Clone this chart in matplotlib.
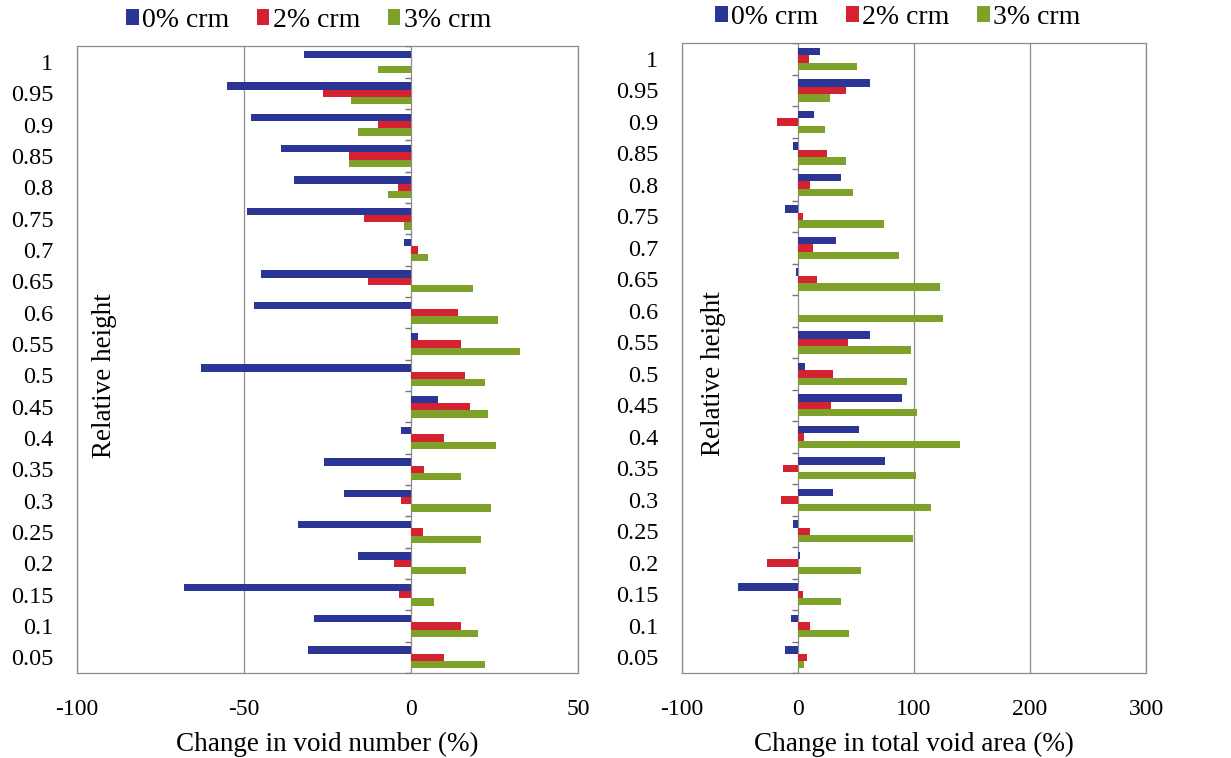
import numpy as np
import matplotlib.pyplot as plt

plt.rcParams['font.family'] = ['Liberation Serif', 'DejaVu Serif']
plt.rcParams['font.size'] = 17
plt.rcParams['axes.unicode_minus'] = False

# relative heights, listed bottom (0.05) to top (1)
heights = ['0.05', '0.1', '0.15', '0.2', '0.25', '0.3', '0.35', '0.4', '0.45', '0.5',
           '0.55', '0.6', '0.65', '0.7', '0.75', '0.8', '0.85', '0.9', '0.95', '1']
series = ['0% crm', '2% crm', '3% crm']
colors = ['#2a3596', '#d42230', '#7ea229']

# change in void number (%)
num_0 = [-31, -29, -68, -16, -34, -20, -26, -3, 8, -63,
         2, -47, -45, -2, -49, -35, -39, -48, -55, -32]
num_2 = [10, 15, -3.5, -5, 3.5, -3, 4, 10, 17.5, 16,
         15, 14, -13, 2, -14, -4, -18.5, -10, -26.5, 0]
num_3 = [22, 20, 7, 16.5, 21, 24, 15, 25.5, 23, 22,
         32.5, 26, 18.5, 5, -2, -7, -18.5, -16, -18, -10]

# change in total void area (%)
area_0 = [-11, -6, -52, 1.5, -4.5, 30, 75, 53, 90, 6,
          62, 0, -2, 33, -11, 37, -4, 13.5, 62, 19]
area_2 = [8, 10.5, 4, -27, 10.5, -15, -13, 5, 28.5, 30,
          43, 0, 16, 13, 4.5, 10, 25, -18, 41, 9.5]
area_3 = [5, 44, 37, 54, 99, 115, 102, 140, 103, 94,
          97, 125, 122, 87, 74, 47, 41, 23, 28, 51]

fig = plt.figure(figsize=(12.31, 7.58), dpi=100)
ax1 = fig.add_axes([0.0626, 0.112, 0.407, 0.827])
ax2 = fig.add_axes([0.554, 0.112, 0.377, 0.831])

y = np.arange(len(heights))
bh = 0.235
offsets = [bh, 0, -bh]


def draw(ax, data, xlim, step, xlabel, leg_x):
    for vals, off, c, lab in zip(data, offsets, colors, series):
        ax.barh(y + off, vals, height=bh, color=c, label=lab, zorder=3)
    ax.set_xlim(*xlim)
    ax.set_ylim(-0.5, len(heights) - 0.5)
    ax.set_xticks(np.arange(xlim[0], xlim[1] + 1, step))
    ax.set_yticks(y)
    ax.set_yticklabels(heights)
    ax.tick_params(axis='y', length=0, pad=17, labelsize=17.5)
    ax.tick_params(axis='x', length=0, pad=19, labelsize=17)
    ax.grid(axis='x', color='#8c8c8c', linewidth=0.9, zorder=0)
    for s in ax.spines.values():
        s.set_color('#8c8c8c')
        s.set_linewidth(0.9)
    # small category ticks on the zero line
    ax.plot(np.zeros(len(heights) + 1), np.arange(len(heights) + 1) - 0.5,
            linestyle='none', marker=0, markersize=4, color='#777777', zorder=4)
    ax.set_xlabel(xlabel, labelpad=8, fontsize=19.5)
    ax.legend(loc='lower center', bbox_to_anchor=(leg_x, 0.995), ncol=3, frameon=False,
              handlelength=0.45, handleheight=0.5, handletextpad=0.12,
              columnspacing=1.0, borderaxespad=0.2, fontsize=20)


draw(ax1, [num_0, num_2, num_3], (-100, 50), 50, 'Change in void number (%)', 0.462)
draw(ax2, [area_0, area_2, area_3], (-100, 300), 100, 'Change in total void area (%)', 0.465)

ax1.text(0.054, 0.475, 'Relative height', rotation=90, transform=ax1.transAxes,
         ha='center', va='center', fontsize=19.5)
ax2.text(0.068, 0.475, 'Relative height', rotation=90, transform=ax2.transAxes,
         ha='center', va='center', fontsize=19.5)

plt.savefig('out.png')
